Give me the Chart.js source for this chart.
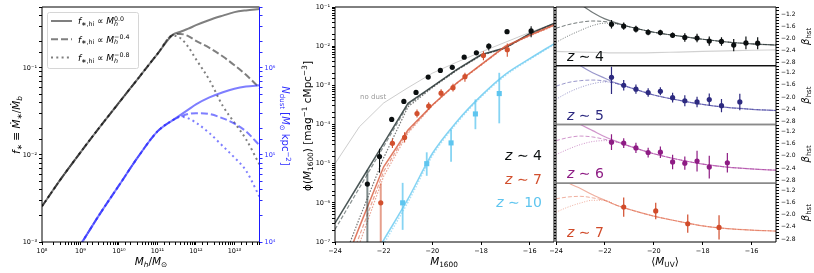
<!DOCTYPE html>
<html>
<head>
<meta charset="utf-8">
<title>dust model: SFE, UV LF and UV slopes</title>
<script src="https://cdn.jsdelivr.net/npm/chart.js@4.4.1/dist/chart.umd.min.js"></script>
<style>
  body { margin: 0; background: #fff; }
  #fig { position: relative; width: 814px; height: 273px; overflow: hidden; }
  #fig canvas { position: absolute; left: 0; top: 0; }
</style>
</head>
<body>
<div id="fig">
  <canvas id="sfe" width="814" height="273"></canvas>
  <canvas id="uvlf" width="814" height="273"></canvas>
  <canvas id="beta4" width="814" height="273"></canvas>
  <canvas id="beta5" width="814" height="273"></canvas>
  <canvas id="beta6" width="814" height="273"></canvas>
  <canvas id="beta7" width="814" height="273"></canvas>
</div>
<script>
// ---- panel 1: star formation efficiency and dust column vs halo mass (log10 values) ----
const haloLogM = [8, 8.5, 9, 9.5, 10, 10.5, 11, 11.4, 11.6, 11.8, 12, 12.35, 12.7, 13, 13.3, 13.65];
const fstarFlatLog = [-2.59, -2.27, -1.97, -1.68, -1.40, -1.12, -0.84, -0.62, -0.585, -0.55, -0.51, -0.45, -0.40, -0.36, -0.34, -0.325];
const fstarM04Log = [-2.59, -2.27, -1.97, -1.68, -1.40, -1.12, -0.84, -0.62, -0.61, -0.635, -0.69, -0.77, -0.87, -0.97, -1.08, -1.23];
const fstarM08Log = [-2.59, -2.27, -1.97, -1.68, -1.40, -1.12, -0.84, -0.63, -0.66, -0.76, -0.90, -1.14, -1.44, -1.63, -1.82, -2.11];
const ndustFlatLog = [null, 3.64, 3.97, 4.32, 4.65, 4.98, 5.27, 5.40, 5.46, 5.52, 5.58, 5.66, 5.72, 5.76, 5.785, 5.80];
const ndustM04Log = [null, 3.64, 3.97, 4.32, 4.65, 4.98, 5.27, 5.40, 5.44, 5.47, 5.48, 5.47, 5.42, 5.36, 5.27, 5.11];
const ndustM08Log = [null, 3.64, 3.97, 4.32, 4.65, 4.98, 5.27, 5.40, 5.44, 5.42, 5.37, 5.25, 5.10, 4.97, 4.82, 4.52];
const legendSlopes = ['0.0', '\u22120.4', '\u22120.8'];

// ---- panel 2: UV luminosity functions (log10 phi) ----
const lfMag = [-24, -23, -22, -21, -20, -19, -18, -17, -16, -15];
const lfNoDustLog = [-5.0, -4.06, -3.45, -3.06, -2.69, -2.41, -2.15, -1.9, -1.65, -1.42];
const lfZ4SolidLog = [-6.52, -5.5, -4.48, -3.46, -3.03, -2.6, -2.22, -2.04, -1.68, -1.42];
const lfZ4DashLog = [-6.68, -5.62, -4.56, -3.5, -3.04, -2.61, -2.23, -2.05, -1.69, -1.43];
const lfZ4DotLog = [-8.0, -6.4, -4.85, -3.55, -3.06, -2.62, -2.24, -2.05, -1.69, -1.43];
const lfZ7SolidLog = [-8.2, -6.62, -5.08, -4.14, -3.5, -2.94, -2.47, -2.0, -1.72, -1.46];
const lfZ7DashLog = [-8.5, -6.85, -5.2, -4.18, -3.51, -2.95, -2.48, -2.01, -1.73, -1.47];
const lfZ7DotLog = [-8.8, -7.05, -5.32, -4.22, -3.52, -2.96, -2.49, -2.02, -1.74, -1.48];
const lfZ10SolidLog = [-9.0, -8.0, -6.95, -5.9, -4.74, -3.93, -3.27, -2.72, -2.32, -1.94];
const lfZ10DotLog = [-9.1, -8.1, -7.05, -5.98, -4.8, -3.97, -3.3, -2.75, -2.34, -1.96];

const z4Mag = [-22.67, -22.17, -21.67, -21.17, -20.67, -20.17, -19.67, -19.18, -18.69, -18.19, -17.68, -16.93, -15.94];
const z4PhiLog = [-5.52, -4.82, -3.87, -3.41, -3.18, -2.79, -2.62, -2.54, -2.28, -2.17, -2.0, -1.63, -1.61];
const z4PhiHiLog = [-5.16, -4.62, -3.82, -3.37, -3.14, -2.76, -2.59, -2.51, -2.25, -2.14, -1.93, -1.59, -1.49];
const z4PhiLoLog = [-9, -5.23, -3.93, -3.45, -3.22, -2.82, -2.65, -2.57, -2.31, -2.2, -2.11, -1.67, -1.77];
const z7Mag = [-22.12, -21.64, -21.14, -20.63, -20.15, -19.64, -19.15, -18.66, -17.90, -16.92];
const z7PhiLog = [-6.0, -4.48, -4.33, -3.72, -3.53, -3.2, -3.06, -2.78, -2.24, -2.09];
const z7PhiHiLog = [-5.5, -4.36, -4.2, -3.62, -3.43, -3.1, -2.96, -2.68, -2.13, -1.93];
const z7PhiLoLog = [-9, -4.6, -4.46, -3.82, -3.63, -3.3, -3.16, -2.91, -2.36, -2.27];
const z10Mag = [-21.22, -20.23, -19.23, -18.23, -17.25];
const z10PhiLog = [-6.0, -5.0, -4.47, -3.73, -3.21];
const z10PhiHiLog = [-5.49, -4.71, -4.12, -3.36, -2.68];
const z10PhiLoLog = [-6.69, -5.31, -4.95, -4.12, -3.97];

// ---- panel 3: UV slopes beta ----
const betaMag = [-24, -23.5, -23, -22.5, -22, -21.5, -21, -20, -19, -18, -17, -16, -15];
const betaZ4Solid = [-0.35, -0.6, -0.88, -1.15, -1.36, -1.5, -1.62, -1.8, -1.92, -2.03, -2.12, -2.18, -2.22];
const betaZ4Dash = [-1.67, -1.55, -1.47, -1.43, -1.45, -1.52, -1.62, -1.8, -1.92, -2.03, -2.12, -2.18, -2.22];
const betaZ4Dot = [-2.13, -1.92, -1.74, -1.58, -1.5, -1.53, -1.62, -1.8, -1.92, -2.03, -2.12, -2.18, -2.22];
const betaZ4NoDust = [-2.43, -2.44, -2.45, -2.46, -2.47, -2.48, -2.48, -2.47, -2.45, -2.43, -2.41, -2.39, -2.38];
const betaZ5Solid = [-0.4, -0.7, -0.97, -1.2, -1.38, -1.55, -1.68, -1.93, -2.1, -2.24, -2.34, -2.4, -2.44];
const betaZ5Dash = [-1.64, -1.52, -1.46, -1.44, -1.47, -1.56, -1.68, -1.93, -2.1, -2.24, -2.34, -2.4, -2.44];
const betaZ5Dot = [-2.07, -1.85, -1.68, -1.56, -1.5, -1.56, -1.68, -1.93, -2.1, -2.24, -2.34, -2.4, -2.44];
const betaZ6Solid = [-0.4, -0.7, -0.97, -1.17, -1.37, -1.53, -1.68, -1.93, -2.12, -2.27, -2.37, -2.43, -2.47];
const betaZ6Dash = [-1.5, -1.4, -1.35, -1.38, -1.46, -1.55, -1.68, -1.93, -2.12, -2.27, -2.37, -2.43, -2.47];
const betaZ6Dot = [-1.96, -1.78, -1.63, -1.53, -1.5, -1.55, -1.68, -1.93, -2.12, -2.27, -2.37, -2.43, -2.47];
const betaZ7Solid = [-0.6, -0.95, -1.14, -1.35, -1.53, -1.7, -1.83, -2.05, -2.22, -2.37, -2.46, -2.51, -2.54];
const betaZ7Dash = [-1.48, -1.42, -1.4, -1.45, -1.54, -1.7, -1.83, -2.05, -2.22, -2.37, -2.46, -2.51, -2.54];
const betaZ7Dot = [-1.92, -1.75, -1.62, -1.53, -1.53, -1.7, -1.83, -2.05, -2.22, -2.37, -2.46, -2.51, -2.54];

const obsZ4Mag = [-21.73, -21.23, -20.73, -20.23, -19.73, -19.23, -18.73, -18.23, -17.73, -17.23, -16.73, -16.23, -15.75];
const obsZ4Beta = [-1.54, -1.60, -1.70, -1.80, -1.81, -1.90, -1.97, -1.99, -2.09, -2.10, -2.22, -2.15, -2.16];
const obsZ4Err = [0.14, 0.12, 0.11, 0.1, 0.09, 0.09, 0.14, 0.14, 0.15, 0.14, 0.2, 0.21, 0.2];
const obsZ5Mag = [-21.73, -21.23, -20.73, -20.23, -19.73, -19.23, -18.73, -18.23, -17.73, -17.23, -16.48];
const obsZ5Beta = [-1.35, -1.61, -1.74, -1.85, -1.81, -2.02, -2.12, -2.16, -2.08, -2.28, -2.16];
const obsZ5ErrUp = [0.35, 0.17, 0.15, 0.14, 0.13, 0.16, 0.18, 0.17, 0.2, 0.22, 0.27];
const obsZ5ErrDn = [0.55, 0.17, 0.15, 0.14, 0.13, 0.16, 0.18, 0.17, 0.2, 0.22, 0.27];
const obsZ6Mag = [-21.73, -21.23, -20.73, -20.23, -19.73, -19.23, -18.73, -18.23, -17.73, -16.99];
const obsZ6Beta = [-1.55, -1.58, -1.74, -1.89, -1.88, -2.2, -2.24, -2.17, -2.37, -2.23];
const obsZ6Err = [0.26, 0.16, 0.17, 0.16, 0.19, 0.24, 0.22, 0.34, 0.37, 0.32];
const obsZ7Mag = [-21.23, -19.92, -18.61, -17.33];
const obsZ7Beta = [-1.75, -1.88, -2.30, -2.42];
const obsZ7ErrUp = [0.31, 0.27, 0.3, 0.4];
const obsZ7ErrDn = [0.32, 0.27, 0.3, 0.4];

const FONT_FAMILY = '"DejaVu Sans", sans-serif';
Chart.defaults.font.family = FONT_FAMILY;
Chart.defaults.color = '#000';
Chart.defaults.animation = false;
Chart.defaults.responsive = false;
Chart.defaults.events = [];
Chart.defaults.plugins.legend.display = false;
Chart.defaults.plugins.tooltip.enabled = false;

const pow10 = v => (v === null ? null : Math.pow(10, v));
const same = v => v;
function series(xs, ys, fx, fy) {
  return xs.map((x, i) => ({ x: fx(x), y: ys[i] === null ? null : fy(ys[i]) }));
}

const SUPER = { '-': '\u207b', '0': '\u2070', '1': '\u00b9', '2': '\u00b2', '3': '\u00b3', '4': '\u2074', '5': '\u2075', '6': '\u2076', '7': '\u2077', '8': '\u2078', '9': '\u2079' };
function powerLabel(v) {
  const l = Math.log10(v), e = Math.round(l);
  if (Math.abs(l - e) > 1e-6) return '';
  return '10' + String(e).split('').map(c => SUPER[c]).join('');
}
const magLabel = v => (v < 0 ? '\u2212' : '') + Math.abs(v);
function betaLabel(v) {
  const k = Math.round(v * 10);
  return k % 4 === 0 ? '\u2212' + Math.abs(v).toFixed(1) : '';
}

function axis(o) {
  const c = o.color || '#000';
  const shown = o.display !== false;
  return {
    type: o.type || 'linear', position: o.position, min: o.min, max: o.max,
    display: shown,
    border: { display: false },
    grid: { drawOnChartArea: false, drawTicks: true, tickLength: o.tickLength || 3, color: c },
    ticks: {
      font: { size: o.font || 6.5 }, color: c, padding: 2, autoSkip: false, maxRotation: 0,
      stepSize: o.step, includeBounds: false, display: o.labels !== false,
      callback: o.callback || (v => v)
    },
    afterFit: s => {
      if (!shown) return;
      if (s.isHorizontal()) s.height = o.size; else s.width = o.size;
    }
  };
}

// text with sub/superscripts: parts = [[text, style]], style n|i|sub|subi|sup|supi, '@' = stack on previous
function drawRich(ctx, it) {
  const size = it.size;
  ctx.save();
  ctx.translate(it.x, it.y);
  if (it.rot) ctx.rotate(it.rot);
  const runs = [];
  let cur = 0, prevX = 0, prevW = 0;
  for (const [t, st0] of it.parts) {
    const stacked = st0.endsWith('@');
    const st = stacked ? st0.slice(0, -1) : st0;
    const small = st.startsWith('sub') || st.startsWith('sup');
    const s = small ? size * 0.7 : size;
    const italic = st.endsWith('i');
    const dy = st.startsWith('sub') ? size * 0.2 : st.startsWith('sup') ? -size * 0.4 : 0;
    ctx.font = (italic ? 'italic ' : '') + s + 'px ' + FONT_FAMILY;
    const w = ctx.measureText(t).width;
    const x0 = stacked ? prevX : cur;
    runs.push({ t, font: ctx.font, x0, dy });
    if (stacked) { prevW = Math.max(prevW, w); cur = prevX + prevW; }
    else { prevX = x0; prevW = w; cur = x0 + w; }
  }
  const off = it.align === 'left' ? 0 : it.align === 'right' ? -cur : -cur / 2;
  ctx.fillStyle = it.color || '#000';
  ctx.textBaseline = 'alphabetic';
  for (const r of runs) {
    ctx.font = r.font;
    ctx.fillText(r.t, off + r.x0, size * 0.36 + r.dy);
  }
  ctx.restore();
}

const textPlugin = items => ({
  id: 'texts',
  afterDraw(chart) { items.forEach(it => drawRich(chart.ctx, it)); }
});

// spines: { top: [color, width], ... }
const framePlugin = sides => ({
  id: 'frame',
  afterDatasetsDraw(chart) {
    const { left, right, top, bottom } = chart.chartArea;
    const ctx = chart.ctx;
    const seg = { top: [left, top, right, top], bottom: [left, bottom, right, bottom],
                  left: [left, top, left, bottom], right: [right, top, right, bottom] };
    ctx.save();
    for (const side of Object.keys(sides)) {
      const [color, w] = sides[side];
      const [x1, y1, x2, y2] = seg[side];
      ctx.strokeStyle = color;
      ctx.lineWidth = w;
      ctx.beginPath();
      ctx.moveTo(x1, y1);
      ctx.lineTo(x2, y2);
      ctx.stroke();
    }
    ctx.restore();
  }
});

// vertical error bars from dataset.errLo / errHi (data values)
Chart.register({
  id: 'errorBars',
  beforeDatasetDraw(chart, args) {
    const ds = chart.data.datasets[args.index];
    if (!ds.errLo) return;
    const xs = chart.scales[args.meta.xAxisID], ys = chart.scales[args.meta.yAxisID];
    const a = chart.chartArea, ctx = chart.ctx;
    ctx.save();
    ctx.beginPath();
    ctx.rect(a.left, a.top, a.right - a.left, a.bottom - a.top);
    ctx.clip();
    ds.data.forEach((p, i) => {
      const x = xs.getPixelForValue(p.x);
      ctx.strokeStyle = Array.isArray(ds.errColor) ? ds.errColor[i] : ds.errColor;
      ctx.lineWidth = Array.isArray(ds.errWidth) ? ds.errWidth[i] : ds.errWidth;
      ctx.beginPath();
      ctx.moveTo(x, ys.getPixelForValue(ds.errLo[i]));
      ctx.lineTo(x, ys.getPixelForValue(ds.errHi[i]));
      ctx.stroke();
    });
    ctx.restore();
  }
});

function lineDs(data, color, width, dash, smooth, yAxisID) {
  return {
    data, showLine: true, pointRadius: 0, borderColor: color, borderWidth: width,
    borderDash: dash || [], cubicInterpolationMode: smooth ? 'monotone' : 'default',
    tension: 0, yAxisID: yAxisID || 'y'
  };
}
function pointDs(data, color, style, radius, lo, hi, errColor, errWidth) {
  return {
    data, showLine: false, pointStyle: style, pointRadius: radius,
    pointBackgroundColor: color, pointBorderColor: color, pointBorderWidth: 0,
    errLo: lo, errHi: hi, errColor, errWidth
  };
}

// ================= panel 1 =================
const GRAY = 'rgba(0,0,0,0.5)';
const BLUE = 'rgba(40,40,255,0.6)';
const DASH = [7, 3];
const DOT = [2, 3.3];

const sfeLegend = {
  id: 'sfeLegend',
  afterDraw(chart) {
    const ctx = chart.ctx;
    ctx.save();
    ctx.fillStyle = 'rgba(255,255,255,0.8)';
    ctx.strokeStyle = '#d6d6d6';
    ctx.lineWidth = 1;
    ctx.beginPath();
    ctx.roundRect(47.5, 12.5, 91, 56, 2);
    ctx.fill();
    ctx.stroke();
    [[], DASH, DOT].forEach((dash, i) => {
      const y = 21 + i * 18.3;
      ctx.strokeStyle = GRAY;
      ctx.lineWidth = 2;
      ctx.setLineDash(dash);
      ctx.beginPath();
      ctx.moveTo(51, y);
      ctx.lineTo(72, y);
      ctx.stroke();
      drawRich(ctx, { x: 78, y: y, size: 9, align: 'left', parts: [
        ['f', 'i'], ['\u2217,hi', 'sub'], [' \u221d ', 'n'], ['M', 'i'], ['h', 'subi'], [legendSlopes[i], 'sup@']
      ] });
    });
    ctx.restore();
  }
};

new Chart(document.getElementById('sfe'), {
  type: 'scatter',
  data: {
    // first dataset is drawn on top, so list top-most first
    datasets: [
      lineDs(series(haloLogM, ndustM08Log, pow10, pow10), BLUE, 2, DOT, true, 'yr'),
      lineDs(series(haloLogM, ndustM04Log, pow10, pow10), BLUE, 2, DASH, true, 'yr'),
      lineDs(series(haloLogM, ndustFlatLog, pow10, pow10), BLUE, 2, [], true, 'yr'),
      lineDs(series(haloLogM, fstarM08Log, pow10, pow10), GRAY, 2, DOT, true),
      lineDs(series(haloLogM, fstarM04Log, pow10, pow10), GRAY, 2, DASH, true),
      lineDs(series(haloLogM, fstarFlatLog, pow10, pow10), GRAY, 2, [], true)
    ]
  },
  options: {
    layout: { padding: { left: 2, right: 529.5, top: 7, bottom: 11 } },
    scales: {
      x: axis({ type: 'logarithmic', position: 'bottom', min: 1e8, max: 4.47e13, size: 20, callback: powerLabel }),
      y: axis({ type: 'logarithmic', position: 'left', min: 1e-3, max: 0.5, size: 40, callback: powerLabel }),
      yr: axis({ type: 'logarithmic', position: 'right', min: 1e4, max: 5e6, size: 25, color: '#2a2aff', callback: powerLabel })
    }
  },
  plugins: [
    framePlugin({ top: ['#000', 1], bottom: ['#000', 1], left: ['#000', 1], right: ['#1a1aff', 1] }),
    sfeLegend,
    textPlugin([
      { x: 16, y: 125, size: 10.5, rot: -Math.PI / 2, parts: [
        ['f', 'i'], ['\u2217', 'sub'], [' \u2261 ', 'n'], ['\u1e40', 'i'], ['\u2217', 'sub'], ['/', 'n'], ['\u1e40', 'i'], ['b', 'subi']] },
      { x: 151, y: 261, size: 10.5, parts: [['M', 'i'], ['h', 'subi'], ['/', 'n'], ['M', 'i'], ['\u2299', 'sub']] },
      { x: 286, y: 126, size: 10, rot: Math.PI / 2, color: '#2a2aff', parts: [
        ['N', 'i'], ['dust', 'sub'], [' [', 'n'], ['M', 'i'], ['\u2299', 'sub'], [' kpc', 'n'], ['\u22122', 'sup'], [']', 'n']] }
    ])
  ]
});

// ================= panel 2 =================
const Z4_COLOR = '#0b0f10';
const Z7_COLOR = '#d2502e';
const Z10_COLOR = '#5ec5ef';

new Chart(document.getElementById('uvlf'), {
  type: 'scatter',
  data: {
    datasets: [
      pointDs(series(z10Mag, z10PhiLog, same, pow10), Z10_COLOR, 'rect', 3.6,
        z10PhiLoLog.map(pow10), z10PhiHiLog.map(pow10), 'rgba(94,197,239,0.75)', 1.8),
      pointDs(series(z7Mag, z7PhiLog, same, pow10), Z7_COLOR, 'circle', 2.6,
        z7PhiLoLog.map(pow10), z7PhiHiLog.map(pow10),
        ['rgba(210,80,46,0.55)'].concat(Array(9).fill(Z7_COLOR)), [2].concat(Array(9).fill(1.1))),
      pointDs(series(z4Mag, z4PhiLog, same, pow10), Z4_COLOR, 'circle', 2.6,
        z4PhiLoLog.map(pow10), z4PhiHiLog.map(pow10),
        ['rgba(40,60,60,0.6)'].concat(Array(12).fill(Z4_COLOR)), [2].concat(Array(12).fill(1.1))),
      lineDs(series(lfMag, lfZ10DotLog, same, pow10), 'rgba(120,205,240,0.6)', 1.5, [1.5, 1.5], true),
      lineDs(series(lfMag, lfZ10SolidLog, same, pow10), 'rgba(100,200,240,0.8)', 1.5, [], true),
      lineDs(series(lfMag, lfZ7DotLog, same, pow10), 'rgba(215,90,60,0.55)', 1.2, [1.5, 1.5], false),
      lineDs(series(lfMag, lfZ7DashLog, same, pow10), 'rgba(215,90,60,0.55)', 1.2, [4, 2], false),
      lineDs(series(lfMag, lfZ7SolidLog, same, pow10), 'rgba(215,90,60,0.8)', 1.5, [], false),
      lineDs(series(lfMag, lfZ4DotLog, same, pow10), 'rgba(60,60,60,0.7)', 1.2, [1.5, 1.5], false),
      lineDs(series(lfMag, lfZ4DashLog, same, pow10), 'rgba(40,55,55,0.55)', 1.2, [4, 2], false),
      lineDs(series(lfMag, lfZ4SolidLog, same, pow10), 'rgba(30,45,45,0.8)', 1.5, [], false),
      lineDs(series(lfMag, lfNoDustLog, same, pow10), 'rgba(0,0,0,0.2)', 1, [], false)
    ]
  },
  options: {
    layout: { padding: { left: 295, right: 260, top: 7, bottom: 11 } },
    scales: {
      x: axis({ position: 'bottom', min: -24, max: -15, step: 2, size: 20, callback: magLabel }),
      y: axis({ type: 'logarithmic', position: 'left', min: 1e-7, max: 1e-1, size: 40, callback: powerLabel })
    }
  },
  plugins: [
    framePlugin({ top: ['#000', 1], bottom: ['#000', 1], left: ['#000', 1], right: ['#000', 1] }),
    textPlugin([
      { x: 307, y: 126, size: 10.5, rot: -Math.PI / 2, parts: [
        ['\u03d5(', 'n'], ['M', 'i'], ['1600', 'sub'], [') [mag', 'n'], ['\u22121', 'sup'], [' cMpc', 'n'], ['\u22123', 'sup'], [']', 'n']] },
      { x: 444, y: 261, size: 10.5, parts: [['M', 'i'], ['1600', 'sub']] },
      { x: 360, y: 96, size: 7, align: 'left', color: '#9a9a9a', parts: [['no dust', 'n']] },
      { x: 542, y: 155, size: 14, align: 'right', color: Z4_COLOR, parts: [['z', 'i'], [' \u223c 4', 'n']] },
      { x: 542, y: 178.5, size: 14, align: 'right', color: Z7_COLOR, parts: [['z', 'i'], [' \u223c 7', 'n']] },
      { x: 542, y: 201.5, size: 14, align: 'right', color: Z10_COLOR, parts: [['z', 'i'], [' \u223c 10', 'n']] }
    ])
  ]
});

// ================= panel 3: four stacked beta panels =================
const subTops = [7, 65.75, 124.5, 183.25, 242];
const SEP = '#8a8a8a';

function betaChart(id, k, c) {
  const top = subTops[k], bottom = subTops[k + 1];
  const last = k === 3;
  const up = c.errUp || c.err, dn = c.errDn || c.err;
  const datasets = [
    pointDs(series(c.mag, c.beta, same, same), c.color, 'circle', 2.6,
      c.beta.map((b, i) => b - dn[i]), c.beta.map((b, i) => b + up[i]), c.color, 1.2),
    lineDs(series(betaMag, c.dot, same, same), c.line, 1, [1, 1.5], true),
    lineDs(series(betaMag, c.dash, same, same), c.line, 1, [4, 2], true),
    lineDs(series(betaMag, c.solid, same, same), c.line, 1.2, [], true)
  ];
  if (c.noDust) datasets.push(lineDs(series(betaMag, c.noDust, same, same), 'rgba(0,0,0,0.18)', 1.2, [], true));
  const texts = [
    { x: 567, y: bottom - 10, size: 14, align: 'left', color: c.color, parts: [['z', 'i'], [' \u223c ' + c.z, 'n']] },
    { x: 805, y: (top + bottom) / 2, size: 10, rot: -Math.PI / 2, parts: [['\u03b2', 'i'], ['hst', 'sub']] }
  ];
  if (last) texts.push({ x: 665, y: 261, size: 10.5, parts: [['\u27e8', 'n'], ['M', 'i'], ['UV', 'sub'], ['\u27e9', 'n']] });
  new Chart(document.getElementById(id), {
    type: 'scatter',
    data: { datasets },
    options: {
      layout: { padding: { left: 553, right: 10, top: top, bottom: last ? 11 : 273 - bottom } },
      scales: {
        x: axis({ position: 'bottom', min: -24, max: -15, step: 2, size: 20, display: last, callback: magLabel }),
        y: axis({ position: 'right', min: -2.9, max: -0.97, step: 0.1, size: 28, font: 6, callback: betaLabel }),
        yl: axis({ position: 'left', min: -2.9, max: -0.97, step: 0.1, size: 3, tickLength: 2, labels: false })
      }
    },
    plugins: [
      framePlugin({
        top: k >= 2 ? [SEP, 1.5] : ['#000', 1],
        bottom: k === 1 || k === 2 ? [SEP, 1.5] : ['#000', 1],
        left: ['#000', 1], right: ['#000', 1]
      }),
      textPlugin(texts)
    ]
  });
}

betaChart('beta4', 0, { z: '4', color: '#0b0f10', line: 'rgba(40,50,50,0.65)',
  mag: obsZ4Mag, beta: obsZ4Beta, err: obsZ4Err,
  solid: betaZ4Solid, dash: betaZ4Dash, dot: betaZ4Dot, noDust: betaZ4NoDust });
betaChart('beta5', 1, { z: '5', color: '#2d2a80', line: 'rgba(70,66,160,0.55)',
  mag: obsZ5Mag, beta: obsZ5Beta, errUp: obsZ5ErrUp, errDn: obsZ5ErrDn,
  solid: betaZ5Solid, dash: betaZ5Dash, dot: betaZ5Dot });
betaChart('beta6', 2, { z: '6', color: '#8e1c84', line: 'rgba(170,60,160,0.55)',
  mag: obsZ6Mag, beta: obsZ6Beta, err: obsZ6Err,
  solid: betaZ6Solid, dash: betaZ6Dash, dot: betaZ6Dot });
betaChart('beta7', 3, { z: '7', color: '#d14b2a', line: 'rgba(225,110,80,0.55)',
  mag: obsZ7Mag, beta: obsZ7Beta, errUp: obsZ7ErrUp, errDn: obsZ7ErrDn,
  solid: betaZ7Solid, dash: betaZ7Dash, dot: betaZ7Dot });
</script>
</body>
</html>
